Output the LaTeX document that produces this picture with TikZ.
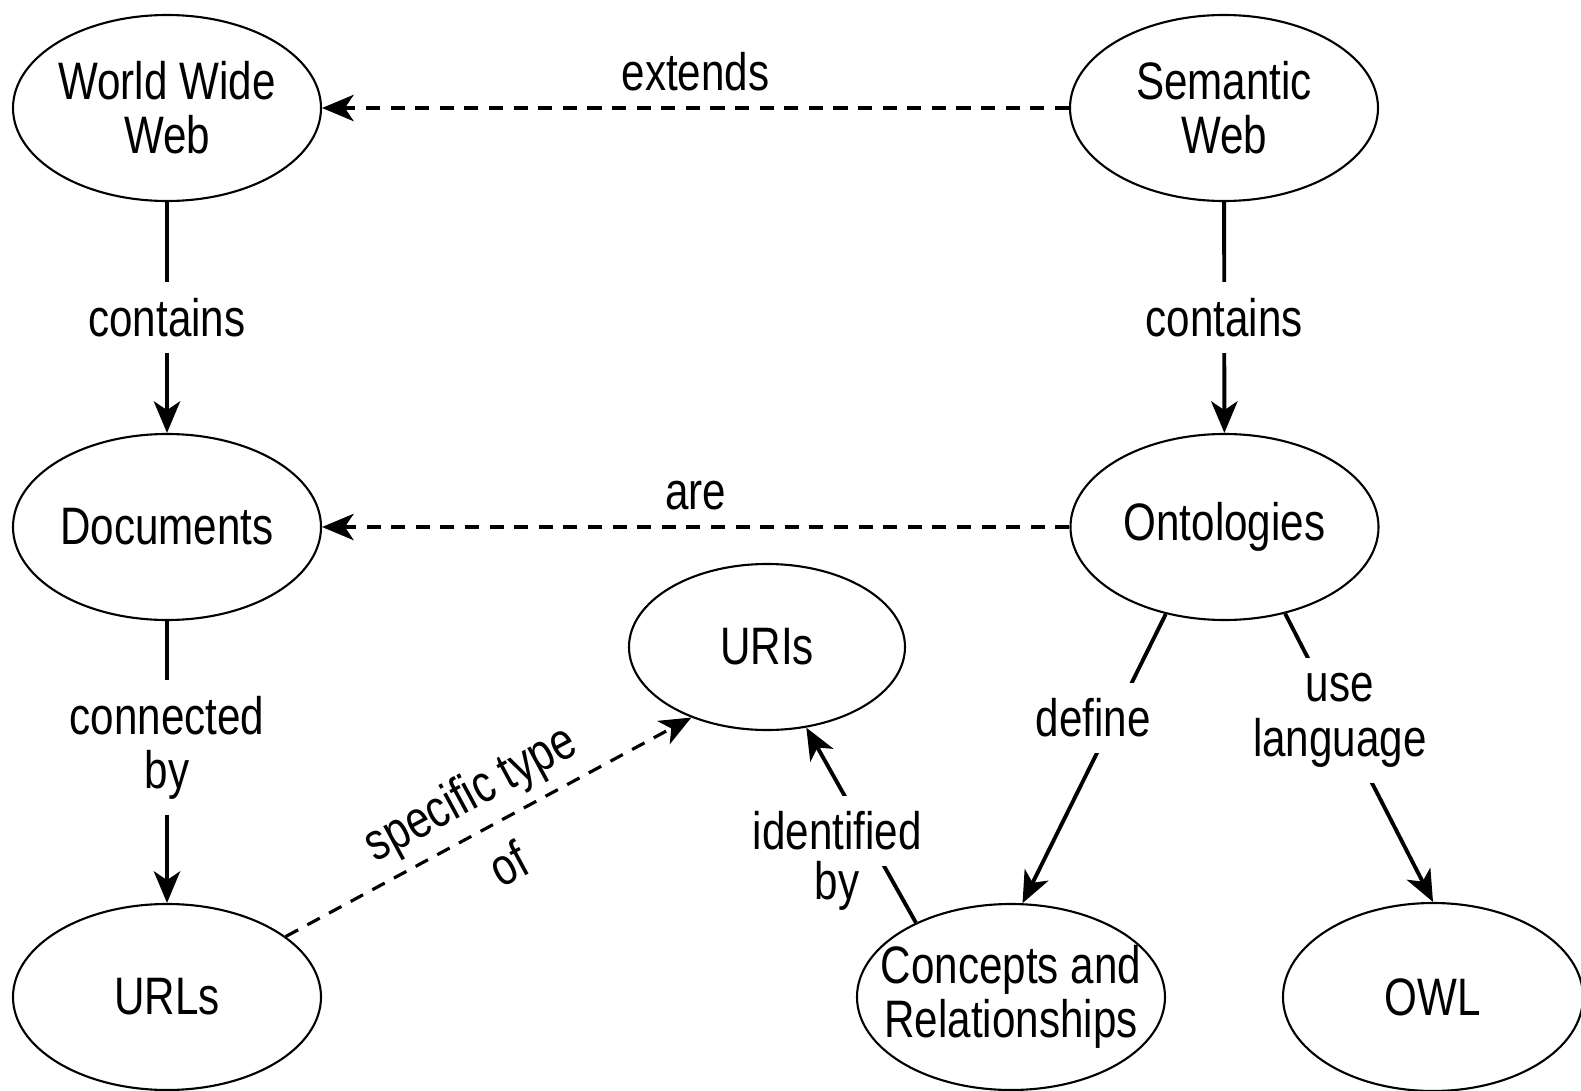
\documentclass[tikz,border=0pt]{standalone}
\usepackage{fontspec}
\setmainfont{Liberation Sans}[FakeStretch=0.8]
\usetikzlibrary{shapes.geometric,arrows.meta}

\begin{document}
\begin{tikzpicture}[
  font=\fontsize{15}{15.4}\selectfont,
  ell/.style={draw, ellipse, line width=0.6pt, minimum width=3.080cm, minimum height=1.860cm, inner sep=0pt, align=center},
  lbl/.style={fill=white, inner sep=4.5pt, align=center},
  arr/.style={-{Stealth[length=9pt,width=7.5pt,inset=2.5pt]}, line width=1.1pt},
  darr/.style={arr, line width=0.9pt, dash pattern=on 4pt off 3pt}]
\useasboundingbox (0,0) rectangle (15.810,-10.910);
\node[ell] (www) at (1.670,-1.080) {World Wide\\Web};
\node[ell] (sweb) at (12.240,-1.080) {Semantic\\Web};
\node[ell] (docs) at (1.670,-5.270) {Documents};
\node[ell] (onto) at (12.245,-5.270) {Ontologies};
\node[ell, minimum width=2.760cm, minimum height=1.660cm] (uris) at (7.670,-6.470) {URIs};
\node[ell] (urls) at (1.670,-9.970) {URLs};
\node[ell, inner xsep=-7pt] (concepts) at (10.110,-9.970) {Concepts and\\Relationships};
\node[ell, minimum width=3.000cm, minimum height=1.880cm] (owl) at (14.330,-9.970) {OWL};
\draw[darr] (sweb) -- node[above, inner sep=4.5pt] {extends} (www);
\draw[darr] (onto) -- node[above, inner sep=4.5pt] {are} (docs);
\draw[arr] (www) -- node[lbl] {contains} (docs);
\draw[arr] (sweb) -- node[lbl] {contains} (onto);
\draw[arr] (docs) -- node[lbl, pos=0.45] {connected\\by} (urls);
\draw[darr] (urls.27) -- node[sloped, align=center] {specific type\\[8pt]of} (uris.223);
\draw[arr] (concepts.142) -- node[lbl, pos=0.47, xshift=-0.27cm] {identified} node[inner sep=1pt, pos=0.19, xshift=-0.58cm] {by} (uris.-64);
\draw[arr] (onto.236) -- node[lbl, pos=0.36, xshift=-0.21cm] {define} (concepts.83);
\draw[arr] (onto.305) -- node[lbl, pos=0.37] {use\\language} (owl.north);
\end{tikzpicture}
\end{document}
